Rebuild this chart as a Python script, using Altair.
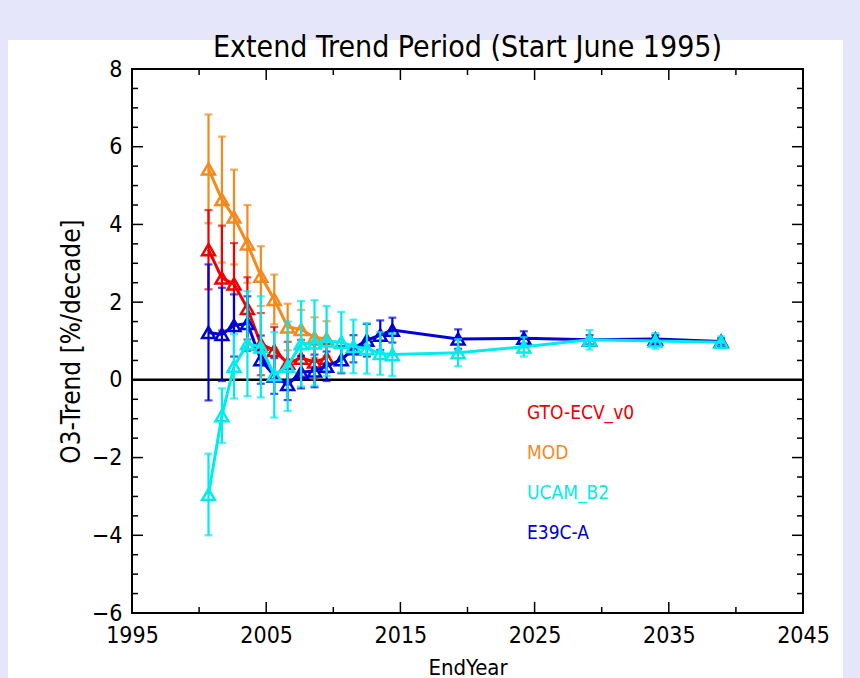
import altair as alt
import pandas as pd

# ---------------- data ----------------
series_names = ["GTO-ECV_v0", "MOD", "UCAM_B2", "E39C-A"]
series_colors = ["#f00000", "#f5891c", "#00ecec", "#0000d8"]

years_short = [2000.7, 2001.7, 2002.6, 2003.6, 2004.6, 2005.6, 2006.6, 2007.6, 2008.6, 2009.5]
years_long = [2000.7, 2001.7, 2002.6, 2003.6, 2004.6, 2005.6, 2006.6, 2007.6, 2008.6, 2009.5,
              2010.6, 2011.5, 2012.5, 2013.5, 2014.4, 2019.3, 2024.2, 2029.1, 2034.0, 2038.9]

gto_val = [3.35, 2.62, 2.47, 1.84, 0.92, 0.76, 0.43, 0.56, 0.46, 0.56]
gto_err = [1.02, 1.35, 1.05, 0.80, 0.80, 0.60, 0.55, 0.47, 0.45, 0.37]

mod_val = [5.43, 4.64, 4.19, 3.50, 2.67, 2.07, 1.36, 1.30, 1.09, 1.06]
mod_err = [1.40, 1.62, 1.22, 1.00, 0.77, 0.64, 0.60, 0.50, 0.52, 0.45]

ucam_val = [-2.95, -0.92, 0.35, 0.93, 0.85, 0.13, 0.35, 0.93, 0.95, 1.00,
            0.97, 0.86, 0.81, 0.68, 0.65, 0.70, 0.85, 1.03, 1.00, 0.97]
ucam_err = [1.05, 0.70, 0.83, 1.35, 1.30, 1.10, 1.15, 1.10, 1.10, 0.90,
            0.78, 0.69, 0.65, 0.55, 0.55, 0.35, 0.25, 0.25, 0.20, 0.15]

e39_val = [1.22, 1.17, 1.40, 1.45, 0.52, 0.10, -0.12, 0.20, 0.23, 0.35,
           0.52, 0.80, 1.02, 1.15, 1.28, 1.05, 1.07, 1.03, 1.05, 0.99]
e39_err = [1.75, 1.20, 0.80, 0.70, 0.62, 0.46, 0.40, 0.42, 0.42, 0.38,
           0.35, 0.35, 0.42, 0.38, 0.32, 0.25, 0.18, 0.12, 0.10, 0.08]

x_major = [1995, 2005, 2015, 2025, 2035, 2045]
x_minor = [2000, 2010, 2020, 2030, 2040]
y_major = [-6, -4, -2, 0, 2, 4, 6, 8]
y_minor = [-5.5, -5, -4.5, -3.5, -3, -2.5, -1.5, -1, -0.5, 0.5, 1, 1.5,
           2.5, 3, 3.5, 4.5, 5, 5.5, 6.5, 7, 7.5]

rows = []
for name, yrs, vals, errs in [
    ("MOD", years_short, mod_val, mod_err),
    ("GTO-ECV_v0", years_short, gto_val, gto_err),
    ("E39C-A", years_long, e39_val, e39_err),
    ("UCAM_B2", years_long, ucam_val, ucam_err),
]:
    for yr, v, e in zip(yrs, vals, errs):
        rows.append({"series": name, "year": yr, "value": v, "err": e})
df = pd.DataFrame(rows)

# ---------------- style ----------------
W, H = 671, 544
NARROW = "DejaVu Sans Condensed, Liberation Sans Narrow, DejaVu Sans"
color_of = dict(zip(series_names, series_colors))

xscale = alt.Scale(domain=[1995, 2045], nice=False, zero=False)
yscale = alt.Scale(domain=[-6, 8], nice=False, zero=False)
xaxis = alt.Axis(values=x_major, format="d", ticks=False, domain=False, grid=False,
                 labelFont=NARROW, labelFontSize=23, labelColor="black", labelPadding=11,
                 labelFlush=False, labelOverlap=False, zindex=1,
                 title="EndYear", titleFont=NARROW, titleFontSize=22,
                 titleFontWeight="normal", titleColor="black", titlePadding=10)
yaxis = alt.Axis(values=y_major, ticks=False, domain=False, grid=False,
                 labelFont=NARROW, labelFontSize=23, labelColor="black", labelPadding=10,
                 labelFlush=False, labelOverlap=False, zindex=1,
                 title="O3-Trend [%/decade]", titleFont=NARROW, titleFontSize=26,
                 titleFontWeight="normal", titleColor="black", titlePadding=7)

X = alt.X("year:Q", scale=xscale, axis=xaxis)
Y = alt.Y("value:Q", scale=yscale, axis=yaxis)

one = pd.DataFrame({"k": [0]})

panel = alt.Chart(one).mark_rect(color="white").encode(
    x=alt.value(-124), x2=alt.value(711), y=alt.value(-29), y2=alt.value(620))

zero_line = alt.Chart(pd.DataFrame({"value": [0]})).mark_rule(
    color="black", strokeWidth=2.5).encode(y=Y)

layers = [panel, zero_line]

for name in ["MOD", "GTO-ECV_v0", "E39C-A", "UCAM_B2"]:
    c = color_of[name]
    base = alt.Chart(df).transform_filter(alt.datum.series == name).transform_calculate(
        lo="datum.value - datum.err", hi="datum.value + datum.err")
    bars = base.mark_rule(color=c, strokeWidth=2.2).encode(
        x=X, y=alt.Y("lo:Q", scale=yscale, axis=yaxis), y2="hi:Q")
    cap_lo = base.mark_tick(color=c, orient="horizontal", size=8, thickness=2.2).encode(
        x=X, y=alt.Y("lo:Q", scale=yscale, axis=yaxis))
    cap_hi = base.mark_tick(color=c, orient="horizontal", size=8, thickness=2.2).encode(
        x=X, y=alt.Y("hi:Q", scale=yscale, axis=yaxis))
    line = base.mark_line(color=c, strokeWidth=3).encode(x=X, y=Y)
    pts = base.mark_point(shape="triangle-up", filled=False, color=c, size=165,
                          strokeWidth=2.5, opacity=1).encode(x=X, y=Y)
    layers += [bars, cap_lo, cap_hi, line, pts]

# legend carrier (invisible points), labels coloured by series
legend_layer = alt.Chart(df).mark_point(opacity=0).encode(
    x=X, y=Y,
    color=alt.Color("series:N",
                    scale=alt.Scale(domain=series_names, range=series_colors),
                    legend=alt.Legend(title=None, orient="none", legendX=376, legendY=334,
                                      symbolSize=0, symbolOpacity=0, symbolStrokeWidth=0,
                                      labelOffset=0, labelFont=NARROW, labelFontSize=19,
                                      labelColor=alt.ExprRef("scale('color', datum.value)"),
                                      rowPadding=20, padding=0)))
layers.append(legend_layer)

# inward ticks on all four sides
xt_major = pd.DataFrame({"year": x_major})
xt_minor = pd.DataFrame({"year": x_minor})
yt_major = pd.DataFrame({"value": y_major})
yt_minor = pd.DataFrame({"value": y_minor})
for d, L in [(xt_major, 11), (xt_minor, 6)]:
    layers.append(alt.Chart(d).mark_rule(color="black", strokeWidth=1.5).encode(
        x=X, y=alt.value(H), y2=alt.value(H - L)))
    layers.append(alt.Chart(d).mark_rule(color="black", strokeWidth=1.5).encode(
        x=X, y=alt.value(0), y2=alt.value(L)))
for d, L in [(yt_major, 11), (yt_minor, 6)]:
    layers.append(alt.Chart(d).mark_rule(color="black", strokeWidth=1.5).encode(
        y=Y, x=alt.value(0), x2=alt.value(L)))
    layers.append(alt.Chart(d).mark_rule(color="black", strokeWidth=1.5).encode(
        y=Y, x=alt.value(W), x2=alt.value(W - L)))

frame = alt.Chart(one).mark_rect(filled=False, stroke="black", strokeWidth=2).encode(
    x=alt.value(0), x2=alt.value(W), y=alt.value(0), y2=alt.value(H))
layers.append(frame)

chart = alt.layer(*layers).properties(
    width=W, height=H,
    title=alt.TitleParams("Extend Trend Period (Start June 1995)", font=NARROW, fontSize=30,
                          fontWeight="normal", color="black", anchor="middle", frame="group",
                          baseline="alphabetic", offset=-47, zindex=1),
    autosize=alt.AutoSizeParams(type="none"),
    padding={"left": 132, "top": 69, "right": 57, "bottom": 65},
    background="#e6e6fa",
).configure_view(stroke=None)

chart.save("out.html", embed_options={"renderer": "svg", "actions": False})
